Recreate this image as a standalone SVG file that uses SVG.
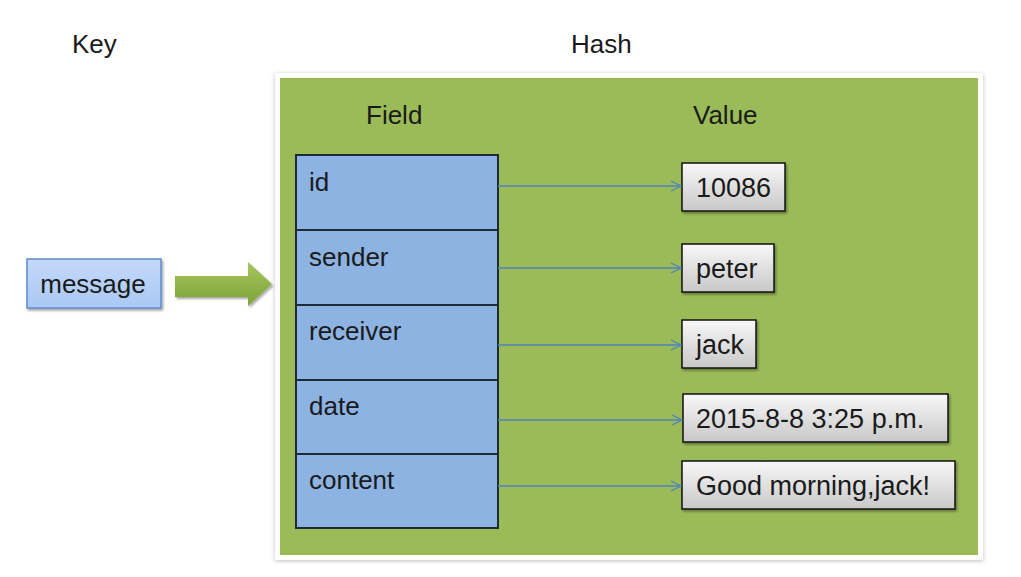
<svg xmlns="http://www.w3.org/2000/svg" width="1021" height="577" viewBox="0 0 1021 577">
<defs>
<linearGradient id="gBlue" x1="0" y1="0" x2="0" y2="1"><stop offset="0" stop-color="#c5d9f9"/><stop offset="1" stop-color="#a9c8f5"/></linearGradient>
<linearGradient id="gGray" x1="0" y1="0" x2="0" y2="1"><stop offset="0" stop-color="#f8f8f8"/><stop offset="1" stop-color="#c8c8c8"/></linearGradient>
<linearGradient id="gArrow" x1="0" y1="0" x2="0" y2="1"><stop offset="0" stop-color="#a6c65a"/><stop offset="1" stop-color="#7da23a"/></linearGradient>
<filter id="sh" x="-10%" y="-10%" width="130%" height="140%"><feDropShadow dx="1.5" dy="2" stdDeviation="1.2" flood-color="#000" flood-opacity="0.35"/></filter>
<filter id="sh2" x="-5%" y="-5%" width="110%" height="110%"><feDropShadow dx="0" dy="1" stdDeviation="2" flood-color="#000" flood-opacity="0.25"/></filter>
<marker id="ah" markerWidth="12" markerHeight="12" refX="11" refY="6" orient="auto" markerUnits="userSpaceOnUse"><path d="M1,1 L11,6 L1,11" fill="none" stroke="#4f81bd" stroke-width="1.2"/></marker>
</defs>
<style>
text{font-family:"Liberation Sans",Arial,sans-serif;fill:#1a1a1a}
.t{font-size:26px}
.f{font-size:26px}
.v{font-size:27px}
.cell{fill:#8db3e2;stroke:#1f2a36;stroke-width:2}
.val{fill:url(#gGray);stroke:#111;stroke-width:1.5;filter:url(#sh)}
.conn{stroke:#4f81bd;stroke-width:1.5;fill:none;marker-end:url(#ah)}
</style>
<rect width="1021" height="577" fill="#fff"/>
<text class="t" x="72" y="53">Key</text>
<text class="t" x="571" y="53">Hash</text>
<g id="hash">
<rect x="275" y="73" width="708" height="487" fill="#fff" filter="url(#sh2)"/>
<rect x="280" y="78" width="698" height="477" fill="#9bbb59"/>
<text class="t" x="366" y="124">Field</text>
<text class="t" x="693" y="124">Value</text>
</g>
<g id="key-message">
<rect x="27" y="259" width="134" height="49" fill="url(#gBlue)" stroke="#5b8bd0" stroke-width="1.5" filter="url(#sh)"/>
<text class="f" x="93" y="293" text-anchor="middle">message</text>
</g>
<g id="big-arrow">
<path d="M175,276 L248,276 L248,262 L272,284 L248,306 L248,297 L175,297 Z" fill="url(#gArrow)" filter="url(#sh)"/>
</g>
<g id="field-id"><rect class="cell" x="296" y="155" width="202" height="75"/><text class="f" x="309" y="191">id</text></g>
<g id="field-sender"><rect class="cell" x="296" y="230" width="202" height="75"/><text class="f" x="309" y="266">sender</text></g>
<g id="field-receiver"><rect class="cell" x="296" y="305" width="202" height="75"/><text class="f" x="309" y="340">receiver</text></g>
<g id="field-date"><rect class="cell" x="296" y="380" width="202" height="74"/><text class="f" x="309" y="415">date</text></g>
<g id="field-content"><rect class="cell" x="296" y="454" width="202" height="74"/><text class="f" x="309" y="489">content</text></g>
<g id="value-10086"><rect class="val" x="682" y="163" width="103" height="48"/><text class="v" x="696" y="197">10086</text></g>
<g id="value-peter"><rect class="val" x="682" y="244" width="92" height="48"/><text class="v" x="696" y="278">peter</text></g>
<g id="value-jack"><rect class="val" x="682" y="320" width="74" height="48"/><text class="v" x="696" y="354">jack</text></g>
<g id="value-date"><rect class="val" x="683" y="394" width="265" height="48"/><text class="v" x="696" y="428">2015-8-8 3:25 p.m.</text></g>
<g id="value-content"><rect class="val" x="682" y="461" width="273" height="48"/><text class="v" x="696" y="495">Good morning,jack!</text></g>
<g id="connectors">
<line class="conn" x1="498" y1="186" x2="681" y2="186"/>
<line class="conn" x1="498" y1="268" x2="681" y2="268"/>
<line class="conn" x1="498" y1="345" x2="681" y2="345"/>
<line class="conn" x1="498" y1="420" x2="682" y2="420"/>
<line class="conn" x1="498" y1="486" x2="681" y2="486"/>
</g>
</svg>
